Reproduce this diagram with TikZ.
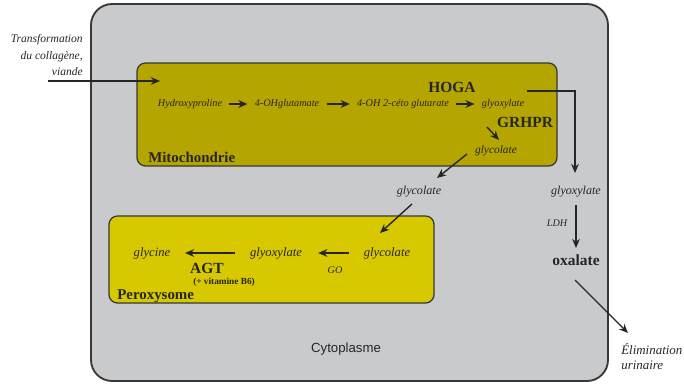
\documentclass[tikz,border=0pt]{standalone}
\usepackage{fontspec}
\setmainfont{Liberation Serif}
\newfontfamily\cytofont{Liberation Sans}
\usetikzlibrary{arrows.meta, calc}
\definecolor{cyfill}{RGB}{201,202,204}
\definecolor{cyedge}{RGB}{55,55,55}
\definecolor{mitofill}{RGB}{181,165,0}
\definecolor{perofill}{RGB}{216,200,0}
\definecolor{ink}{RGB}{38,38,38}
\tikzset{
    cytobox/.style={draw=cyedge, line width=1.3pt, fill=cyfill, rounded corners=15pt},
    orgbox/.style={draw=cyedge, line width=0.9pt, rounded corners=6pt},
    metab/.style={font=\fontsize{8.6}{10}\selectfont\itshape, text=ink, inner sep=2pt},
    mmetab/.style={font=\fontsize{7.3}{9}\selectfont\itshape, text=ink, inner sep=2pt},
    enz/.style={font=\fontsize{11}{13}\selectfont\bfseries, text=ink, inner sep=1pt},
    cofac/.style={font=\fontsize{6.6}{8}\selectfont\bfseries, text=ink, inner sep=1pt},
    ezsmall/.style={font=\fontsize{7.2}{9}\selectfont\itshape, text=ink, inner sep=1pt},
    orglbl/.style={font=\fontsize{10.6}{12}\selectfont\bfseries, text=ink, inner sep=0pt, anchor=base west},
    note/.style={font=\itshape, text=ink, inner sep=0pt},
    arrow/.style={-{Stealth[length=6.5pt, width=5.5pt]}, line width=1pt, ink},
}

\begin{document}
\begin{tikzpicture}[x=0.025cm, y=-0.025cm]
    \useasboundingbox (0,0) rectangle (684,384);
    % compartments
    \draw[cytobox] (91,4) rectangle (608,381);
    \draw[orgbox, fill=mitofill] (137,63) rectangle (557,166);
    \draw[orgbox, fill=perofill] (109,216) rectangle (434,303);
    \node[orglbl] (mitolbl) at (148,162) {Mitochondrie};
    \node[orglbl] (perolbl) at (117,299) {Peroxysome};
    \node[font=\cytofont\fontsize{9.4}{11}\selectfont, text=ink] (cytolbl) at (346,349) {Cytoplasme};

    % entry
    \node[note, font=\fontsize{8.2}{12}\selectfont\itshape, align=right, anchor=east] (trans) at (83,55)
        {Transformation\\du collagène,\\viande};
    \coordinate (src) at (48,81);
    \coordinate (entry) at (160,81);
    \draw[arrow] (src) -- (entry);

    % mitochondrie
    \node[mmetab] (hyp) at (190,104) {Hydroxyproline};
    \node[mmetab] (ohglu) at (287,104) {4-OHglutamate};
    \node[mmetab] (ceto) at (403,104) {4-OH 2-céto glutarate};
    \node[mmetab] (glyoxm) at (503,104) {glyoxylate};
    \node[enz] (hoga) at (452,87) {HOGA};
    \node[enz] (grhpr) at (525,122) {GRHPR};
    \node[metab, font=\fontsize{8.1}{10}\selectfont\itshape] (glycm) at (496,151) {glycolate};
    \draw[arrow, shorten <=3pt, shorten >=3pt] (hyp) -- (ohglu);
    \draw[arrow, shorten <=3pt, shorten >=3pt] (ohglu) -- (ceto);
    \draw[arrow, shorten <=3pt, shorten >=3pt] (ceto) -- (glyoxm);
    \draw[arrow] ($(glyoxm.center)+(-16,23)$) -- ($(glycm.center)+(3,-11)$);

    % peroxysome
    \node[metab, font=\fontsize{9}{11}\selectfont\itshape] (glycp) at (387,253) {glycolate};
    \node[metab, font=\fontsize{9}{11}\selectfont\itshape] (glyoxp) at (276,253) {glyoxylate};
    \node[metab, font=\fontsize{9}{11}\selectfont\itshape] (glyc) at (152,253) {glycine};
    \node[ezsmall] (go) at (335,270) {GO};
    \node[enz] (agt) at (207,268) {AGT};
    \node[cofac] (vitb) at (224,282) {(+ vitamine B6)};
    \draw[arrow, shorten <=27pt, shorten >=30pt] (glycp.center) -- (glyoxp.center);
    \draw[arrow, shorten <=29pt, shorten >=23.5pt] (glyoxp.center) -- (glyc.center);

    % cytoplasme
    \node[metab] (glycc) at (419,192) {glycolate};
    \node[metab] (glyoxr) at (576,192) {glyoxylate};
    \node[ezsmall] (ldh) at (557,223) {LDH};
    \node[enz] (oxal) at (576,260) {oxalate};
    \node[note, font=\fontsize{9.2}{10.7}\selectfont\itshape, align=left, anchor=north west] (elim) at (621,343)
        {Élimination\\urinaire};
    \coordinate (hogaout) at ($(glyoxm.center)+(24,-13)$);
    \draw[arrow] (hogaout) -| ($(glyoxr.center)+(-1,-19)$);
    \draw[arrow] ($(glycm.center)+(-29,3)$) -- ($(glycc.center)+(18,-14)$);
    \draw[arrow] ($(glycc.center)+(-7,12)$) -- ($(glycp.center)+(-7,-20)$);
    \draw[arrow] ($(glyoxr.center)+(0,13)$) -- ($(oxal.center)+(0,-12)$);
    \draw[arrow] ($(oxal.center)+(-1,20)$) -- ($(elim.north west)+(7,-10)$);
\end{tikzpicture}
\end{document}
